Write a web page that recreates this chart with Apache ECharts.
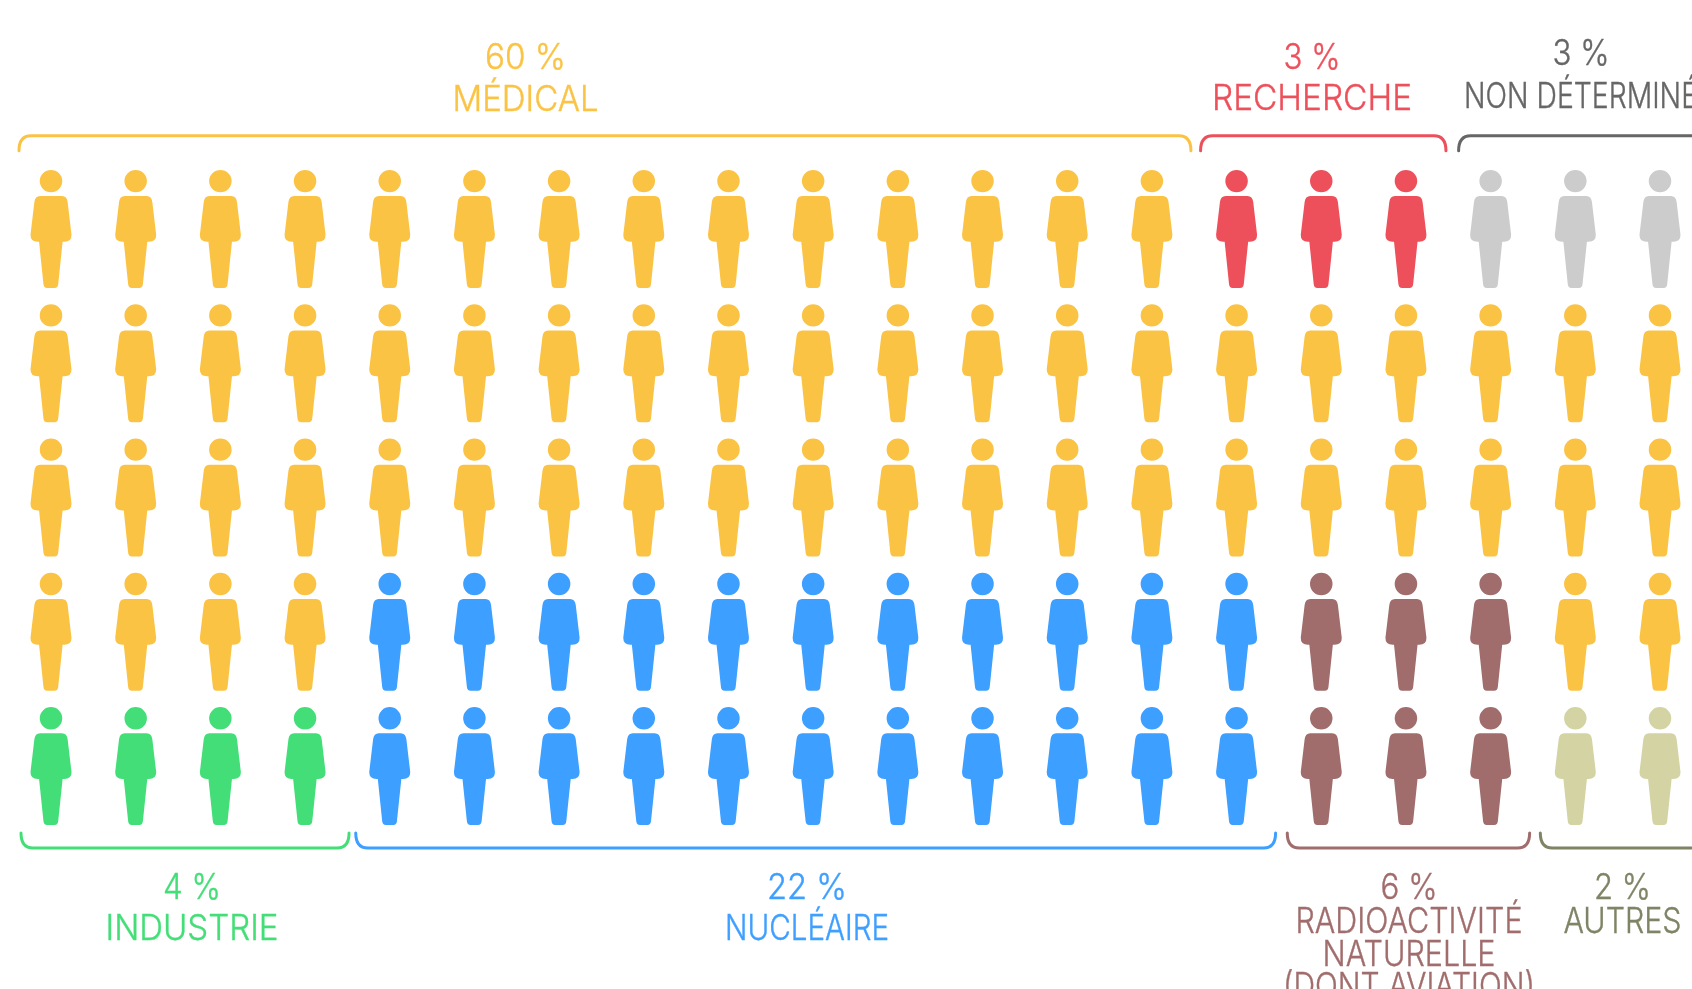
<!DOCTYPE html>
<html>
<head>
<meta charset="utf-8">
<title>Exposition</title>
<style>
	html, body { margin: 0; padding: 0; background: #fff; overflow: hidden; }
	#main { width: 1692px; height: 989px; }
</style>
<script src="https://cdn.jsdelivr.net/npm/echarts@6/dist/echarts.min.js"></script>
</head>
<body>
<div id="main"></div>
<script>
// sectors and their share, one pictogram = 1 %
var sectors = ['MÉDICAL', 'RECHERCHE', 'NON DÉTERMINÉ', 'INDUSTRIE', 'NUCLÉAIRE', 'RADIOACTIVITÉ\nNATURELLE\n(DONT AVIATION)', 'AUTRES'];
var percents = [60, 3, 3, 4, 22, 6, 2];

// which sector each pictogram of a row belongs to
var row1 = [0, 0, 0, 0, 0, 0, 0, 0, 0, 0, 0, 0, 0, 0, 1, 1, 1, 2, 2, 2];
var row2 = [0, 0, 0, 0, 0, 0, 0, 0, 0, 0, 0, 0, 0, 0, 0, 0, 0, 0, 0, 0];
var row3 = [0, 0, 0, 0, 0, 0, 0, 0, 0, 0, 0, 0, 0, 0, 0, 0, 0, 0, 0, 0];
var row4 = [0, 0, 0, 0, 4, 4, 4, 4, 4, 4, 4, 4, 4, 4, 4, 5, 5, 5, 0, 0];
var row5 = [3, 3, 3, 3, 4, 4, 4, 4, 4, 4, 4, 4, 4, 4, 4, 5, 5, 5, 6, 6];
var rows = [row1, row2, row3, row4, row5];

var iconColors = ['#FBC344', '#ED505B', '#CCCCCC', '#44DE78', '#3D9FFF', '#A06C6C', '#D3D3A3'];
var textColors = ['#FBC344', '#ED505B', '#666666', '#44DE78', '#3D9FFF', '#A06C6C', '#7F8465'];

var person = 'path://M28,34a33.5,33.5 0 1,0 67,0a33.5,33.5 0 1,0 -67,0z' +
	'M29,79H94Q109,79 111,97L122.5,195Q123,216 101,216H96L83,342Q82,354 72,354H50Q40,354 39,342L26,216H22Q0,216 0.5,195L12,97Q14,79 29,79Z';

// bracket and label placement (pixels), same order as sectors
var bracketRow = [0, 0, 0, 4, 4, 4, 4];
var padLeft = [32, 36, 32, 30, 34, 34, 35];
var padRight = [39, 40, 43, 44, 39, 39, 45];
var labelX = [525.5, 1312, 1581, 192, 807, 1409, 1622.5];
var percentY = [58, 58.5, 54.7, 888.5, 888.5, 888.5, 888.5];
var percentWidth = [81, 57, 57, 58, 80, 57, 57];
var lineY = [[100], [99.7], [97], [929], [929.5], [922, 955, 987], [922]];
var lineWidth = [[146], [200], [234], [173], [164], [227, 173, 252], [118]];

var font = '300 35px Inter';
var ctx = document.createElement('canvas').getContext('2d');

function fitScale(text, width) {
	ctx.font = font;
	return width / ctx.measureText(text).width;
}

function textEl(text, x, y, color, width) {
	return {
		type: 'text',
		x: x,
		y: y,
		scaleX: fitScale(text, width),
		style: {
			text: text,
			x: 0,
			y: 0,
			textAlign: 'center',
			textVerticalAlign: 'middle',
			font: font,
			fill: color,
			stroke: color,
			lineWidth: 0.4
		}
	};
}

function bracketEl(l, r, top, color) {
	var h = 15, c = 12;
	var w = r - l;
	var d = top
		? 'M0,' + h + 'Q0,0 ' + c + ',0H' + (w - c) + 'Q' + w + ',0 ' + w + ',' + h
		: 'M0,0Q0,' + h + ' ' + c + ',' + h + 'H' + (w - c) + 'Q' + w + ',' + h + ' ' + w + ',0';
	return {
		type: 'path',
		shape: {
			pathData: d,
			layout: 'cover',
			x: l,
			y: top ? 135.7 : 833,
			width: w,
			height: h
		},
		style: { fill: 'none', stroke: color, lineWidth: 3, lineCap: 'round' }
	};
}

function renderSector(params, api) {
	var s = api.value(0);
	var cols = rows[bracketRow[s]];
	var first = cols.indexOf(s);
	var last = cols.lastIndexOf(s);
	var l = api.coord([first, 0])[0] - padLeft[s];
	var r = api.coord([last, 0])[0] + padRight[s];
	var children = [bracketEl(l, r, bracketRow[s] === 0, textColors[s])];
	children.push(textEl(percents[s] + ' %', labelX[s], percentY[s], textColors[s], percentWidth[s]));
	var lines = sectors[s].split('\n');
	for (var i = 0; i < lines.length; i++) {
		children.push(textEl(lines[i], labelX[s], lineY[s][i], textColors[s], lineWidth[s][i]));
	}
	return { type: 'group', children: children };
}

var series = [];
for (var s = 0; s < sectors.length; s++) {
	var points = [];
	for (var r = 0; r < rows.length; r++) {
		for (var c = 0; c < rows[r].length; c++) {
			if (rows[r][c] === s) {
				points.push([c, r]);
			}
		}
	}
	series.push({
		name: sectors[s],
		type: 'scatter',
		symbol: person,
		symbolSize: [41, 118],
		itemStyle: { color: iconColors[s], opacity: 1 },
		data: points
	});
}

var labelData = [];
for (var k = 0; k < sectors.length; k++) {
	labelData.push([k, 0]);
}
series.push({
	type: 'custom',
	renderItem: renderSector,
	clip: false,
	silent: true,
	data: labelData
});

var myChart = echarts.init(document.getElementById('main'));
myChart.setOption({
	animation: false,
	backgroundColor: '#fff',
	grid: { left: 51, top: 228.9, width: 1609, height: 537.2 },
	xAxis: { type: 'value', min: 0, max: 19, show: false },
	yAxis: { type: 'value', min: 0, max: 4, inverse: true, show: false },
	series: series
});
</script>
</body>
</html>
